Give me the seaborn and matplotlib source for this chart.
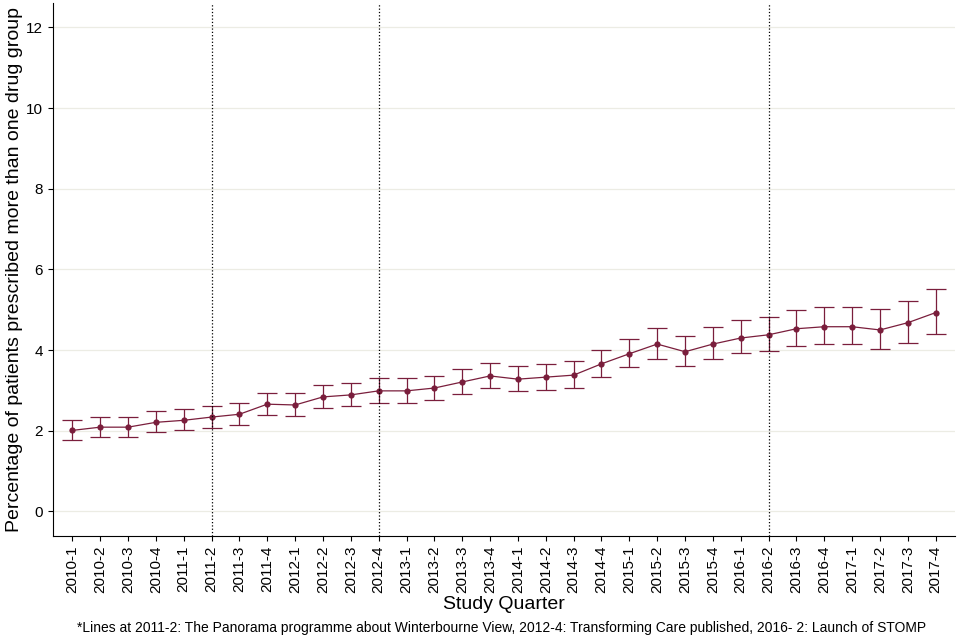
import matplotlib
matplotlib.use("Agg")
import matplotlib.pyplot as plt
import seaborn as sns
import pandas as pd

plt.rcParams["font.family"] = "Liberation Sans"

quarters = [f"{y}-{q}" for y in range(2010, 2018) for q in range(1, 5)]
values = [2.01, 2.09, 2.09, 2.21, 2.26, 2.34, 2.41, 2.66, 2.64, 2.84, 2.89, 2.99,
          2.99, 3.06, 3.21, 3.36, 3.28, 3.33, 3.38, 3.66, 3.91, 4.15, 3.96, 4.15,
          4.30, 4.38, 4.53, 4.58, 4.58, 4.50, 4.68, 4.93]
lower = [1.77, 1.85, 1.85, 1.97, 2.01, 2.08, 2.15, 2.38, 2.36, 2.56, 2.62, 2.70,
         2.70, 2.76, 2.92, 3.06, 2.98, 3.02, 3.06, 3.33, 3.57, 3.78, 3.60, 3.78,
         3.92, 3.98, 4.10, 4.14, 4.14, 4.03, 4.18, 4.40]
upper = [2.27, 2.35, 2.35, 2.48, 2.53, 2.61, 2.69, 2.94, 2.93, 3.13, 3.18, 3.30,
         3.30, 3.37, 3.52, 3.68, 3.60, 3.65, 3.72, 4.00, 4.27, 4.55, 4.35, 4.58,
         4.74, 4.83, 5.00, 5.06, 5.08, 5.02, 5.23, 5.52]
event_quarters = ["2011-2", "2012-4", "2016-2"]

df = pd.DataFrame({"quarter": quarters, "value": values, "lo": lower, "hi": upper})
col = "#7A1E3C"

fig, ax = plt.subplots(figsize=(9.6, 6.4), dpi=100)
sns.lineplot(data=df, x="quarter", y="value", color=col, lw=0.9, marker="o",
             markersize=4.5, markeredgewidth=0, ax=ax, sort=False)
ax.errorbar(df["quarter"], df["value"],
            yerr=[df["value"] - df["lo"], df["hi"] - df["value"]],
            fmt="none", ecolor=col, elinewidth=0.9, capsize=7, capthick=0.9)
for q in event_quarters:
    ax.axvline(quarters.index(q), color="black", ls=":", lw=0.9)

ax.set_ylim(-0.6, 12.6)
ax.set_xlim(-0.7, len(quarters) - 0.3)
ax.set_yticks([0, 2, 4, 6, 8, 10, 12])
ax.yaxis.grid(True, color="#ECECE4", lw=0.9)
ax.set_axisbelow(True)
for s in ["top", "right"]:
    ax.spines[s].set_visible(False)
ax.tick_params(axis="x", rotation=90, labelsize=11)
ax.tick_params(axis="y", labelsize=11)
ax.set_xlabel("Study Quarter", fontsize=14, labelpad=2)
ax.set_ylabel("Percentage of patients prescribed more than one drug group", fontsize=14, labelpad=2)
fig.text(0.522, 0.012, "*Lines at 2011-2: The Panorama programme about Winterbourne View, 2012-4: Transforming Care published, 2016- 2: Launch of STOMP",
         ha="center", fontsize=10)
fig.subplots_adjust(left=0.055, right=0.995, top=0.995, bottom=0.163)
fig.savefig("out.png")
